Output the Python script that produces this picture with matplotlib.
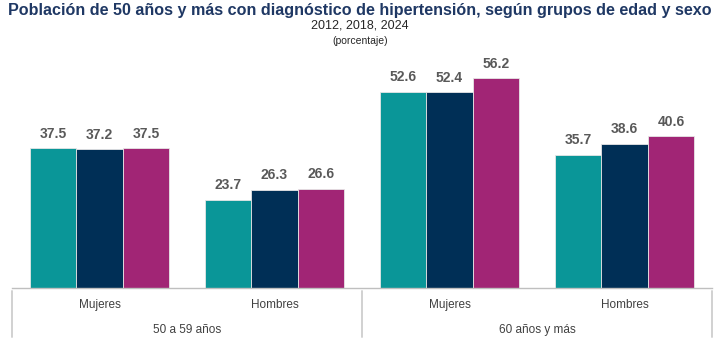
import matplotlib.pyplot as plt
import numpy as np

groups = ['50 a 59 años', '60 años y más']
sexes = ['Mujeres', 'Hombres', 'Mujeres', 'Hombres']
years = ['2012', '2018', '2024']
v2012 = [37.5, 23.7, 52.6, 35.7]
v2018 = [37.2, 26.3, 52.4, 38.6]
v2024 = [37.5, 26.6, 56.2, 40.6]

colors = ['#0A9698', '#002F56', '#A12575']
label_color = '#595959'
line_color = '#BFBFBF'

plt.rcParams['font.family'] = ['Liberation Sans', 'DejaVu Sans']

fig = plt.figure(figsize=(7.2, 3.4), dpi=100)
ax = fig.add_axes([12 / 720, 52 / 340, 700 / 720, 224 / 340])

x = np.arange(len(sexes))
w = 0.265
for i, vals in enumerate([v2012, v2018, v2024]):
    pos = x + (i - 1) * w
    ax.bar(pos, vals, width=w, color=colors[i], edgecolor='#E6E6E6', linewidth=0.6, label=years[i])
    for p, v in zip(pos, vals):
        ax.text(p, v + 2.0, f'{v:.1f}', ha='center', va='bottom', fontsize=10,
                fontweight='bold', color=label_color)

ax.set_xlim(-0.5, len(sexes) - 0.5)
ax.set_ylim(0, 60)
ax.set_yticks([])
ax.set_xticks([])
for s in ['top', 'left', 'right']:
    ax.spines[s].set_visible(False)
ax.spines['bottom'].set_color(line_color)
ax.spines['bottom'].set_linewidth(1)

# category and group labels below the axis
for xi, s in zip(x, sexes):
    ax.annotate(s, (xi, 0), xytext=(0, -12.5), textcoords='offset points',
                ha='center', va='center', fontsize=8.5, color='#404040', annotation_clip=False)
for gi, g in enumerate(groups):
    ax.annotate(g, (gi * 2 + 0.5, 0), xytext=(0, -30), textcoords='offset points',
                ha='center', va='center', fontsize=8.5, color='#404040', annotation_clip=False)
for xb in [-0.5, 1.5, 3.5]:
    ax.annotate('', (xb, 0), xytext=(xb, -52), textcoords=('data', 'offset pixels'),
                arrowprops=dict(arrowstyle='-', color=line_color, lw=1), annotation_clip=False)

fig.text(0.5, 1 - 10 / 340, 'Población de 50 años y más con diagnóstico de hipertensión, según grupos de edad y sexo',
         ha='center', va='center', fontsize=11.6, fontweight='bold', color='#1F3864')
fig.text(0.5, 1 - 26 / 340, '2012, 2018, 2024', ha='center', va='center', fontsize=9, color='#262626')
fig.text(0.5, 1 - 41 / 340, '(porcentaje)', ha='center', va='center', fontsize=7.5, color='#262626')

fig.savefig('out.png', dpi=100)
